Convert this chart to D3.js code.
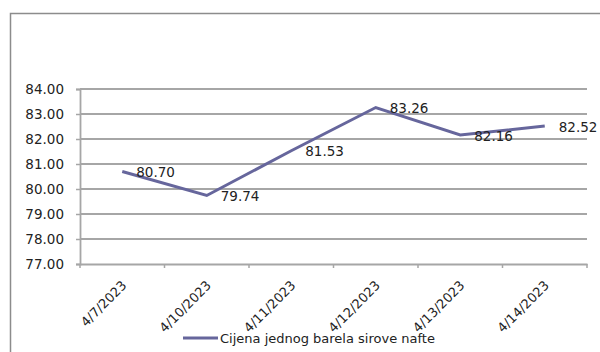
<!DOCTYPE html>
<html>
<head>
<meta charset="utf-8">
<script src="https://cdn.jsdelivr.net/npm/d3@7"></script>
<style>
  body { margin: 0; background: #fff; }
  text { font-family: "DejaVu Sans", sans-serif; fill: #222; }
</style>
</head>
<body>
<div id="chart"></div>
<script>
// data
var dates = ["4/7/2023", "4/10/2023", "4/11/2023", "4/12/2023", "4/13/2023", "4/14/2023"];
var prices = [80.70, 79.74, 81.53, 83.26, 82.16, 82.52];
var yTicks = [77, 78, 79, 80, 81, 82, 83, 84];
var seriesName = "Cijena jednog barela sirove nafte";

var W = 600, H = 352;
var margin = {top: 89, right: 13, bottom: 88, left: 80};
var width = W - margin.left - margin.right,
    height = H - margin.top - margin.bottom;

var svg = d3.select("#chart").append("svg")
    .attr("width", W)
    .attr("height", H);

// outer frame (cropped on right and bottom)
svg.append("path")
    .attr("d", "M10.5," + H + "V13.5H" + W)
    .attr("fill", "none")
    .attr("stroke", "#8c8c8c")
    .attr("stroke-width", 1.5);

var g = svg.append("g")
    .attr("transform", "translate(" + margin.left + "," + margin.top + ")");

var x = d3.scaleBand().domain(dates).range([0, width]);
var y = d3.scaleLinear().domain([77, 84]).range([height, 0]);

// gridlines
g.selectAll(".grid")
    .data(yTicks.slice(1))
    .enter().append("line")
    .attr("x1", 0)
    .attr("x2", width)
    .attr("y1", function(d) { return y(d); })
    .attr("y2", function(d) { return y(d); })
    .attr("stroke", "#a6a6a6")
    .attr("stroke-width", 1.8);

// y axis
var yAxis = g.append("g")
    .call(d3.axisLeft(y).tickValues(yTicks).tickSize(4).tickPadding(12)
        .tickFormat(d3.format(".2f")));
yAxis.select(".domain").attr("stroke", "#a6a6a6").attr("stroke-width", 1.8);
yAxis.selectAll(".tick line").attr("stroke", "#a6a6a6").attr("stroke-width", 1.5);
yAxis.selectAll("text").style("font-size", "13.5px").attr("fill", "#222");

// x axis, ticks at category boundaries
var xAxis = g.append("g")
    .attr("transform", "translate(0," + height + ")")
    .call(d3.axisBottom(x).tickSize(0).tickPadding(0));
xAxis.select(".domain").attr("stroke", "#a6a6a6").attr("stroke-width", 1.8);
xAxis.selectAll("text")
    .style("font-size", "13px")
    .style("text-anchor", "end")
    .attr("fill", "#222")
    .attr("y", 0)
    .attr("dy", "0.35em")
    .attr("transform", "translate(2,19) rotate(-45)");

var bounds = dates.map(function(d) { return x(d); }).concat([width]);
g.selectAll(".xtick")
    .data(bounds)
    .enter().append("line")
    .attr("x1", function(d) { return d; })
    .attr("x2", function(d) { return d; })
    .attr("y1", height)
    .attr("y2", height + 4)
    .attr("stroke", "#a6a6a6")
    .attr("stroke-width", 1.5);

// line
var cx = function(d, i) { return x(dates[i]) + x.bandwidth() / 2; };
var line = d3.line()
    .x(cx)
    .y(function(d) { return y(d); });

g.append("path")
    .datum(prices)
    .attr("d", line)
    .attr("fill", "none")
    .attr("stroke", "#66669c")
    .attr("stroke-width", 3)
    .attr("stroke-linejoin", "miter");

// data labels
g.selectAll(".lbl")
    .data(prices)
    .enter().append("text")
    .attr("x", function(d, i) { return cx(d, i) + 14; })
    .attr("y", function(d) { return y(d) + 1; })
    .attr("dy", "0.35em")
    .style("font-size", "13.5px")
    .text(function(d) { return d.toFixed(2); });

// legend
var leg = svg.append("g").attr("transform", "translate(183,338)");
leg.append("line")
    .attr("x1", 0).attr("x2", 35)
    .attr("stroke", "#66669c")
    .attr("stroke-width", 3);
leg.append("text")
    .attr("x", 37)
    .attr("dy", "0.35em")
    .style("font-size", "13px")
    .text(seriesName);
</script>
</body>
</html>
